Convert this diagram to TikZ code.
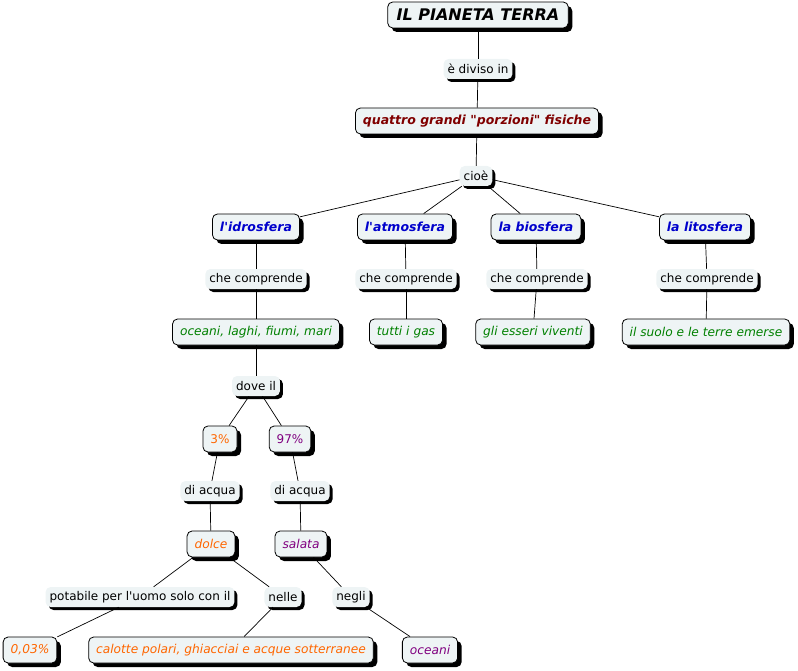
\documentclass[tikz,border=0pt]{standalone}
\usepackage{fontspec}
\setmainfont{DejaVu Sans}[Ligatures=TeXOff]
\usetikzlibrary{shadows}
\definecolor{boxfill}{HTML}{EEF4F5}
\definecolor{sferablu}{HTML}{0000CC}
\definecolor{rossoscuro}{HTML}{800000}
\definecolor{verde}{HTML}{008000}
\definecolor{arancio}{HTML}{FF6600}
\definecolor{viola}{HTML}{800080}
\begin{document}
\begin{tikzpicture}[x=1pt,y=-1pt,
  concetto/.style={draw=black,line width=0.8pt,fill=boxfill,rounded corners=5pt,
    minimum height=26pt,inner xsep=7.5pt,font=\fontsize{12}{14}\selectfont,
    drop shadow={shadow xshift=4pt,shadow yshift=-4pt,fill=black,opacity=1}},
  legame/.style={fill=boxfill,rounded corners=5pt,minimum height=20pt,inner xsep=4pt,
    font=\fontsize{12}{14}\selectfont,
    drop shadow={shadow xshift=3pt,shadow yshift=-3pt,fill=black,opacity=1}},
  grassetto/.style={concetto,font=\fontsize{12.5}{14}\selectfont\bfseries\itshape},
  corsivo/.style={concetto,font=\fontsize{12.2}{14}\selectfont\itshape}]
\useasboundingbox (0,0) rectangle (798,671);

% edit here for the concepts
\node[concetto,inner xsep=9pt,font=\fontsize{16}{18}\selectfont\bfseries\itshape] (terra) at (478,15) {IL PIANETA TERRA};
\node[legame] (diviso) at (478,69) {è diviso in};
\node[grassetto,text=rossoscuro] (porzioni) at (477,121) {quattro grandi "porzioni" fisiche};
\node[legame] (cioe) at (476,176) {cioè};

\node[grassetto,text=sferablu] (idro) at (256,227) {l'idrosfera};
\node[grassetto,text=sferablu] (atmo) at (405,227) {l'atmosfera};
\node[grassetto,text=sferablu] (bio) at (536,227) {la biosfera};
\node[grassetto,text=sferablu] (lito) at (705,227) {la litosfera};

\foreach \n/\x in {cc1/256,cc2/406,cc3/537,cc4/707}
\node[legame] (\n) at (\x,279) {che comprende};

\node[corsivo,text=verde] (acque) at (256,332) {oceani, laghi, fiumi, mari};
\node[corsivo,text=verde] (gas) at (406,332) {tutti i gas};
\node[corsivo,text=verde] (viventi) at (533,332) {gli esseri viventi};
\node[corsivo,text=verde] (suolo) at (706,332) {il suolo e le terre emerse};

% edit here for the water
\node[legame] (dove) at (256,386) {dove il};
\node[concetto,text=arancio] (tre) at (220,439) {3\%};
\node[concetto,text=viola] (novanta) at (290,439) {97\%};
\node[legame] (acqua1) at (210,491) {di acqua};
\node[legame] (acqua2) at (300,491) {di acqua};
\node[corsivo,text=arancio] (dolce) at (211,544) {dolce};
\node[corsivo,text=viola] (salata) at (301,544) {salata};
\node[legame] (potabile) at (140,597) {potabile per l'uomo solo con il};
\node[legame] (nelle) at (283,597) {nelle};
\node[legame] (negli) at (351,597) {negli};
\node[corsivo,text=arancio] (zero) at (30,650) {0,03\%};
\node[corsivo,text=arancio] (calotte) at (231,650) {calotte polari, ghiacciai e acque sotterranee};
\node[corsivo,text=viola] (mari) at (430,650) {oceani};

% edit here for the lines
\foreach \a/\b in {terra/diviso,diviso/porzioni,porzioni/cioe,cioe/idro,cioe/atmo,cioe/bio,cioe/lito,
  idro/cc1,cc1/acque,atmo/cc2,cc2/gas,bio/cc3,cc3/viventi,lito/cc4,cc4/suolo,
  acque/dove,dove/tre,dove/novanta,tre/acqua1,acqua1/dolce,novanta/acqua2,acqua2/salata,
  dolce/potabile,dolce/nelle,potabile/zero,nelle/calotte,salata/negli,negli/mari}
\draw[line width=0.7pt] (\a) -- (\b);
\end{tikzpicture}
\end{document}
